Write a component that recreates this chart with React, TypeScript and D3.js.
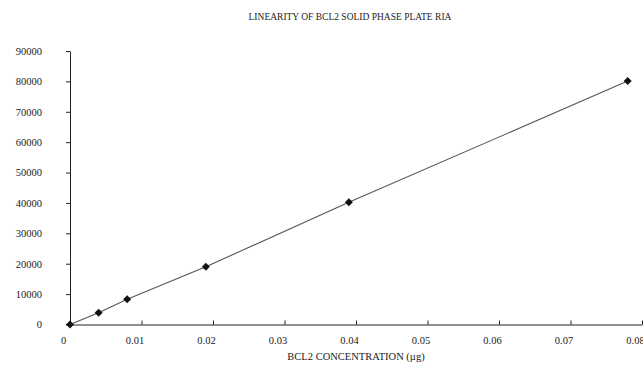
import { useEffect, useRef } from 'react';
import * as d3 from 'd3';

const concentration = [0, 0.004, 0.008, 0.019, 0.039, 0.078];
const counts = [0, 3900, 8300, 19000, 40200, 80100];
const xTicks = [0, 0.01, 0.02, 0.03, 0.04, 0.05, 0.06, 0.07, 0.08];
const yTicks = [0, 10000, 20000, 30000, 40000, 50000, 60000, 70000, 80000, 90000];

export default function App() {
  const svgRef = useRef<SVGSVGElement>(null);

  useEffect(() => {
    if (!svgRef.current) return;
    const svg = d3.select(svgRef.current);
    svg.selectAll('*').remove();

    const width = 643;
    const height = 369;
    const margin = { top: 51, right: 1, bottom: 44, left: 70 };
    const font = '"Liberation Serif", "Times New Roman", serif';

    const x = d3.scaleLinear().domain([0, 0.08]).range([margin.left, width - margin.right]);
    const y = d3.scaleLinear().domain([0, 90000]).range([height - margin.bottom - 0.5, margin.top]);

    svg.append('rect').attr('width', width).attr('height', height).attr('fill', '#fff');

    // Y axis: ticks outward, labels right-aligned
    const yAxis = svg.append('g')
      .attr('transform', `translate(${margin.left},0)`)
      .call(d3.axisLeft(y).tickValues(yTicks).tickSize(4).tickSizeOuter(0).tickPadding(24).tickFormat(d3.format('d')));
    yAxis.select('.domain').attr('stroke', '#222');
    yAxis.selectAll('line').attr('stroke', '#222');
    yAxis.selectAll('text')
      .attr('fill', '#222').attr('font-family', font).attr('font-size', '10.5px');

    // X axis: ticks point up into the plot
    const xAxis = svg.append('g')
      .attr('transform', `translate(0,${y(0)})`)
      .call(d3.axisBottom(x).tickValues(xTicks).tickSize(-4).tickSizeOuter(0).tickPadding(12).tickFormat((d) => (d === 0 ? '0' : d3.format('.2f')(d as number))));
    xAxis.select('.domain').attr('stroke', '#222');
    xAxis.selectAll('line').attr('stroke', '#222');
    xAxis.selectAll('text')
      .attr('fill', '#222').attr('font-family', font).attr('font-size', '10.5px')
      .attr('dx', -7);

    // Series line
    const pts = concentration.map((c, i) => [c, counts[i]] as [number, number]);
    svg.append('path')
      .datum(pts)
      .attr('fill', 'none')
      .attr('stroke', '#555')
      .attr('stroke-width', 1.1)
      .attr('d', d3.line<[number, number]>().x((d) => x(d[0])).y((d) => y(d[1])));

    // Diamond markers
    svg.selectAll('path.pt')
      .data(pts)
      .join('path')
      .attr('class', 'pt')
      .attr('transform', (d) => `translate(${x(d[0])},${y(d[1])})`)
      .attr('d', 'M0,-4L4,0L0,4L-4,0Z')
      .attr('fill', '#111');

    // Title
    svg.append('text')
      .attr('x', 350).attr('y', 20)
      .attr('text-anchor', 'middle')
      .attr('fill', '#222')
      .attr('font-family', font)
      .attr('font-size', '9.5px')
      .text('LINEARITY OF BCL2 SOLID PHASE PLATE RIA');

    // X axis label
    svg.append('text')
      .attr('x', 356).attr('y', 360)
      .attr('text-anchor', 'middle')
      .attr('fill', '#222')
      .attr('font-family', font)
      .attr('font-size', '10.5px')
      .text('BCL2 CONCENTRATION (µg)');
  }, []);

  return (
    <svg
      ref={svgRef}
      width={643}
      height={369}
      style={{ position: 'absolute', left: 0, top: 0 }}
    />
  );
}
